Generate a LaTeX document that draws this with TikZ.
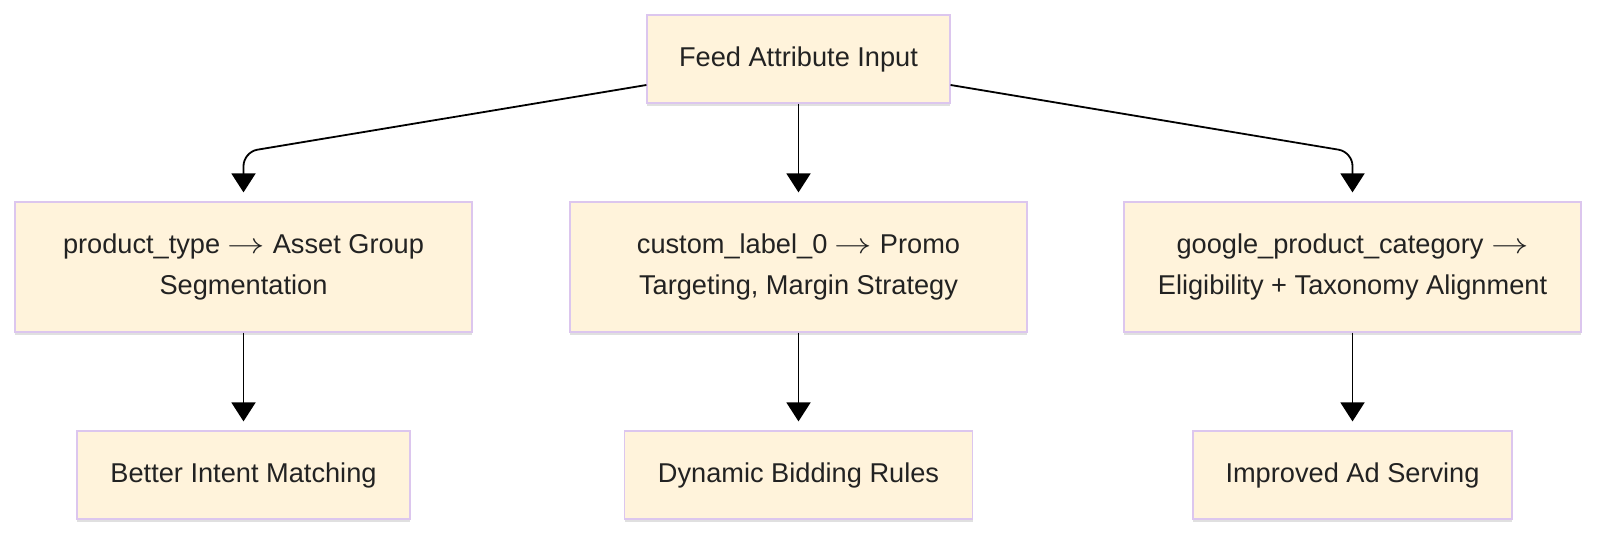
\documentclass[tikz,border=0pt]{standalone}
\usepackage{fontspec}
\setmainfont{Liberation Sans}
\usepackage{xcolor}
\usepackage{graphicx}
\usepackage{tikz}
\usetikzlibrary{positioning, shapes, calc, arrows.meta, shadows}

\definecolor{boxfill}{HTML}{FFF3DB}
\definecolor{boxline}{HTML}{DCC6EE}
\definecolor{textcol}{HTML}{222222}
\newcommand{\maparrow}{\scalebox{1.3}[1]{$\rightarrow$}}

\begin{document}
\begin{tikzpicture}[x=0.5pt, y=-0.5pt,
	box/.style={draw=boxline, line width=0.6pt, fill=boxfill, text=textcol,
		font=\fontsize{13.6pt}{20.5pt}\selectfont, align=center, inner sep=0pt,
		drop shadow={shadow xshift=0pt, shadow yshift=-1.5pt, opacity=0.12, fill=black}},
	link/.style={draw=black, line width=0.9pt, rounded corners=7pt, shorten >=4.5pt,
		-{Triangle[length=9.5pt, width=12pt]}}]
			\useasboundingbox (0,0) rectangle (1600,536);
			
			\node [box, minimum width=151.5pt, minimum height=44pt] (feed) at (798.5,59) {Feed Attribute Input};
			
			\foreach \name/\xc/\txt in {type/243.5/{product\_type \maparrow{} Asset Group\\Segmentation},
				label/798.5/{custom\_label\_0 \maparrow{} Promo\\Targeting, Margin Strategy},
				gpc/1352.5/{google\_product\_category \maparrow\\Eligibility + Taxonomy Alignment}}
			\node [box, minimum width=228.5pt, minimum height=65pt] (\name) at (\xc,267) {\txt};
			
			\foreach \name/\xc/\bw/\txt in {intent/243.5/166.5/{Better Intent Matching},
				bidding/798.5/174/{Dynamic Bidding Rules},
				serving/1352.5/159.5/{Improved Ad Serving}}
			\node [box, minimum width=\bw pt, minimum height=44pt] (\name) at (\xc,475) {\txt};
			
			\coordinate (bend) at (0,152);
			\draw [link] ([yshift=-13pt]feed.west) -- (bend -| type.north) -- (type.north);
			\draw [link] ([yshift=-13pt]feed.east) -- (bend -| gpc.north) -- (gpc.north);
			\draw [link] (feed.south) -- (label.north);
			
			\foreach \a/\b in {type/intent, label/bidding, gpc/serving}
			\draw [link] (\a.south) -- (\b.north);
			\end{tikzpicture}
\end{document}
